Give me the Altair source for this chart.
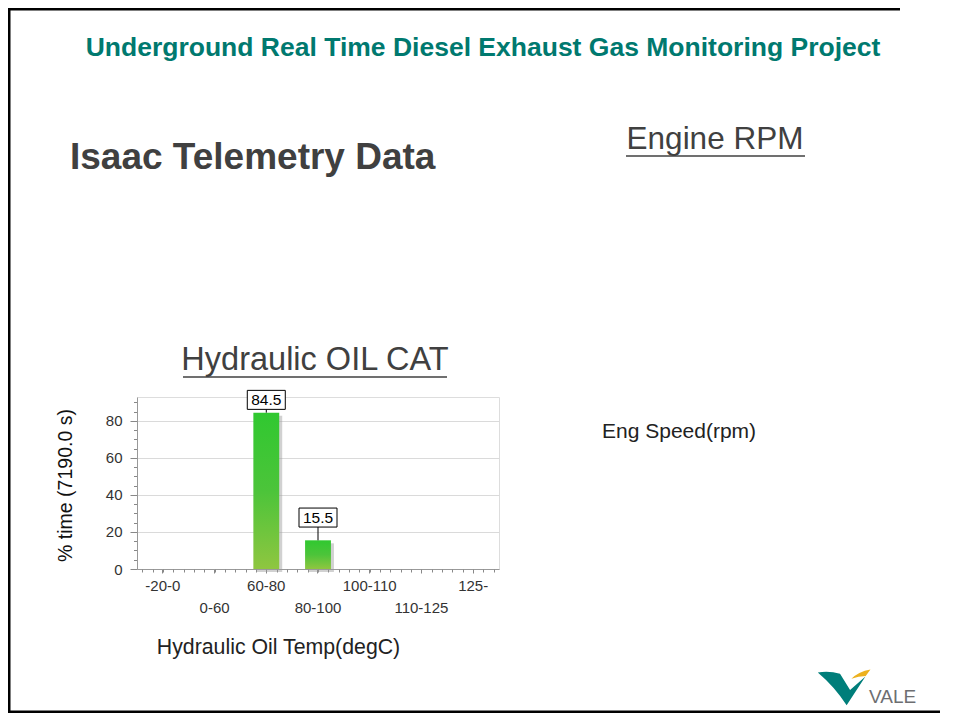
import altair as alt
import pandas as pd

# ---------------- data ----------------
categories = ["-20-0", "0-60", "60-80", "80-100", "100-110", "110-125", "125-"]
pct_time = [0.0, 0.0, 84.5, 15.5, 0.0, 0.0, 0.0]
y_max = 92.95
y_ticks = [0, 5, 10, 15, 20, 25, 30, 35, 40, 45, 50, 55, 60, 65, 70, 75, 80, 85, 90]
minor_x_ticks = [i + 0.5 for i in range(35)]

slide_title = "Underground Real Time Diesel Exhaust Gas Monitoring Project"
left_heading = "Isaac Telemetry Data"
right_heading = "Engine RPM"
chart_heading = "Hydraulic OIL CAT"
right_label = "Eng Speed(rpm)"
x_title = "Hydraulic Oil Temp(degC)"
y_title = "% time (7190.0 s)"
logo_text = "VALE"

df = pd.DataFrame({"range": categories, "pct": pct_time})
one = pd.DataFrame({"t": [0]})

FONT = "Liberation Sans"
W, H = 362, 172
PL, PT = 129, 389
PAD = {"left": PL, "top": PT, "right": 944 - PL - W, "bottom": 705 - PT - H}

second_row = categories[1::2]
row_test = "indexof([" + ",".join("'%s'" % c for c in second_row) + "], datum.value) >= 0"

xscale = alt.Scale(domain=categories, paddingInner=0.5, paddingOuter=0.25)
xaxis = alt.Axis(
    title=x_title, titleFont=FONT, titleFontSize=21.3, titleFontWeight="normal",
    titleColor="#222222", titleX=141, titleY=78, titleAlign="center", titleBaseline="middle",
    labelAngle=0, labelFont=FONT, labelFontSize=15, labelColor="#333333",
    labelExpr=row_test + " ? ['', datum.label] : datum.label",
    labelLineHeight=22, labelPadding=5, labelBaseline="top",
    tickSize=4, tickColor="#888888", domainColor="#999999", grid=False,
)
yscale = alt.Scale(domain=[0, y_max], nice=False, zero=True)
yaxis = alt.Axis(
    title=y_title, titleFont=FONT, titleFontSize=19.5, titleFontWeight="normal",
    titleColor="#111111", titleAngle=270, titleX=-72, titleY=88,
    titleAlign="center", titleBaseline="middle",
    values=y_ticks, labelExpr="datum.value % 20 === 0 ? datum.label : ''",
    labelFont=FONT, labelFontSize=15, labelColor="#333333", labelPadding=8,
    tickSize={"condition": {"test": "datum.value % 20 === 0", "value": 7}, "value": 3.5},
    tickColor="#888888", domainColor="#999999",
    grid=True, gridColor="#dadada",
    gridOpacity={"condition": {"test": "datum.value % 20 === 0 && datum.value > 0", "value": 1}, "value": 0},
)

X = alt.X("range:N", sort=categories, scale=xscale, axis=xaxis)


def Y(field):
    return alt.Y(field, scale=yscale, axis=yaxis)


base = alt.Chart(df)

gradient = alt.Gradient(
    gradient="linear",
    stops=[alt.GradientStop(color="#30c830", offset=0),
           alt.GradientStop(color="#4cc43a", offset=0.5),
           alt.GradientStop(color="#8fc640", offset=1)],
    x1=0, x2=0, y1=0, y2=1,
)

shadow = base.mark_bar(color="#9a9a9a", opacity=0.45, xOffset=3, yOffset=3).encode(x=X, y=Y("pct:Q"))
bars = base.mark_bar(color=gradient).encode(x=X, y=Y("pct:Q"))

lab = base.transform_filter("datum.pct > 0").transform_calculate(
    labelY="min(datum.pct + 12.3, 91.4)"
)
connector = lab.mark_rule(color="#000000", strokeWidth=1, y2Offset=9.5).encode(
    x=X, y=Y("pct:Q"), y2=alt.Y2("labelY:Q")
)
box = lab.mark_bar(width=38, fill="#ffffff", stroke="#000000", strokeWidth=1,
                   yOffset=-9.5, y2Offset=9.5).encode(
    x=X, y=Y("labelY:Q"), y2=alt.Y2("labelY:Q")
)
box_text = lab.mark_text(font=FONT, fontSize=15.5, color="#000000", baseline="middle", align="center").encode(
    x=X, y=Y("labelY:Q"), text=alt.Text("pct:Q", format=".1f")
)

plot = alt.layer(shadow, bars, connector, box, box_text)

minor = alt.Chart(one).mark_point(opacity=0).encode(
    x=alt.X("t:Q", scale=alt.Scale(domain=[0, 35], nice=False, zero=False),
            axis=alt.Axis(values=minor_x_ticks, labels=False, domain=False, grid=False,
                          tickSize=3, tickColor="#888888", orient="bottom", title=None))
)


def txt(s, x, y, size, color="#404040", weight="normal", align="left"):
    return alt.Chart(one).mark_text(
        text=s, font=FONT, fontSize=size, fontWeight=weight, color=color,
        align=align, baseline="middle"
    ).encode(x=alt.value(x - 137), y=alt.value(y - 397))


def band(x1, x2, y1, y2, color):
    return alt.Chart(one).mark_rect(color=color, strokeWidth=0).encode(
        x=alt.value(x1 - 137), x2=alt.value(x2 - 137),
        y=alt.value(y1 - 397), y2=alt.value(y2 - 397)
    )


deco = [
    txt(slide_title, 483, 48, 26.5, color="#00796f", weight="bold", align="center"),
    txt(left_heading, 70, 158, 37, weight="bold"),
    txt(right_heading, 715, 140, 31.5, align="center"),
    band(626, 805, 155.3, 156.8, "#404040"),
    txt(chart_heading, 315, 360, 32.5, align="center"),
    band(183, 447, 376.3, 377.8, "#404040"),
    txt(right_label, 602, 432, 21, color="#222222"),
    # frame (left, top, bottom)
    band(8, 10.5, 8, 713, "#000000"),
    band(8, 900, 8, 10.5, "#000000"),
    band(8, 940, 710.5, 713, "#000000"),
    # logo
    alt.Chart(one).mark_point(
        shape="M -0.99 -0.59 Q -0.55 -0.66 -0.15 -0.54 L 0.23 0.08 L 0.81 -0.43 L 0.10 0.65 Q -0.35 -0.05 -0.99 -0.59 Z",
        filled=True, color="#007e7a", opacity=1, size=2800, strokeWidth=0,
    ).encode(x=alt.value(844 - 137), y=alt.value(688 - 397)),
    alt.Chart(one).mark_point(
        shape="M 0.28 -0.35 Q 0.55 -0.62 1.0 -0.70 L 0.82 -0.45 Q 0.55 -0.45 0.28 -0.35 Z",
        filled=True, color="#ecb11f", opacity=1, size=2800, strokeWidth=0,
    ).encode(x=alt.value(844 - 137), y=alt.value(688 - 397)),
    txt(logo_text, 869, 697, 19, color="#6d6e71"),
]

chart = alt.layer(plot, minor, *deco).resolve_scale(x="independent").properties(
    width=W, height=H, padding=PAD,
    autosize=alt.AutoSizeParams(type="none"),
    background="#ffffff",
).configure_view(stroke="#999999", strokeWidth=1).configure(font=FONT)

chart.save("out.html", embed_options={"renderer": "svg", "actions": False})
